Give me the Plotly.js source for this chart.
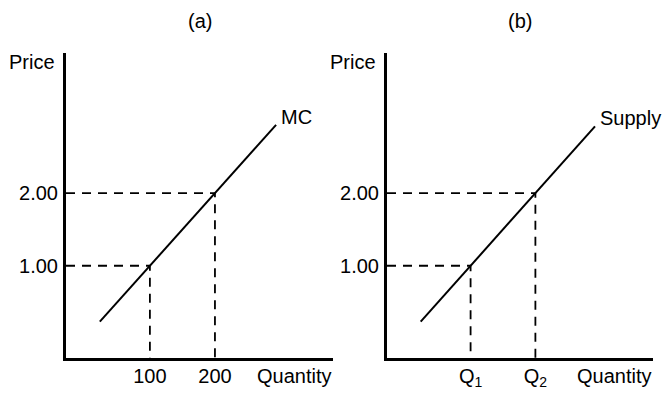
<!DOCTYPE html>
<html>
<head>
<meta charset="utf-8">
<script src="https://cdn.plot.ly/plotly-3.0.1.min.js"></script>
<style>html,body{margin:0;padding:0;background:#fff;}#chart{width:670px;height:393px;}</style>
</head>
<body>
<div id="chart"></div>
<script>
// ---- data ----
const panelTitles = ['(a)', '(b)'];
const curveNames = ['MC', 'Supply'];
const quantityTicks = [100, 200];
const quantityLabelsA = ['100', '200'];
const quantityLabelsB = ['Q<sub>1</sub>', 'Q<sub>2</sub>'];
const priceTicks = [1, 2];
const priceLabels = ['1.00', '2.00'];
const mcQty = [23, 294];
const mcPrice = [0.23, 2.94];
const supplyQty = [23, 292];
const supplyPrice = [0.23, 2.92];
const xRange = [-29, 381.5];
const yRange = [-0.27, 3.93];

const FONT = {family: 'Liberation Sans, Arial, Helvetica, sans-serif', size: 20, color: '#000'};

function guides(xa, ya) {
  return priceTicks.map((p, i) => ({
    type: 'scatter', mode: 'lines', xaxis: xa, yaxis: ya, hoverinfo: 'skip', showlegend: false,
    x: [xRange[0], quantityTicks[i], quantityTicks[i]],
    y: [p, p, yRange[0]],
    line: {color: '#000', width: 1.8, dash: '9px,7px'}
  }));
}

const traces = [
  ...guides('x', 'y'),
  ...guides('x2', 'y2'),
  {type: 'scatter', mode: 'lines', x: mcQty, y: mcPrice, xaxis: 'x', yaxis: 'y', name: curveNames[0],
   line: {color: '#000', width: 2}, showlegend: false},
  {type: 'scatter', mode: 'lines', x: supplyQty, y: supplyPrice, xaxis: 'x2', yaxis: 'y2', name: curveNames[1],
   line: {color: '#000', width: 2}, showlegend: false}
];

function xAxis(domain, labels, anchor) {
  return {domain: domain, range: xRange, anchor: anchor, showline: true, linewidth: 3, linecolor: '#000',
    showgrid: false, zeroline: false, ticks: '', tickvals: quantityTicks, ticktext: labels,
    tickfont: FONT, ticklabelstandoff: -2, fixedrange: true};
}
function yAxis(domain, anchor) {
  return {domain: domain, range: yRange, anchor: anchor, showline: true, linewidth: 3, linecolor: '#000',
    showgrid: false, zeroline: false, ticks: '', tickvals: priceTicks, ticktext: priceLabels,
    tickfont: FONT, ticklabelstandoff: 1, fixedrange: true};
}

const yDom = [35 / 393, 340 / 393];
const layout = {
  width: 670, height: 393,
  margin: {l: 0, r: 0, t: 0, b: 0},
  paper_bgcolor: '#fff', plot_bgcolor: 'rgba(0,0,0,0)',
  font: FONT,
  showlegend: false,
  xaxis: xAxis([66 / 670, 333 / 670], quantityLabelsA, 'y'),
  yaxis: yAxis(yDom, 'x'),
  xaxis2: xAxis([387 / 670, 653 / 670], quantityLabelsB, 'y2'),
  yaxis2: yAxis(yDom, 'x2'),
  annotations: [
    {text: panelTitles[0], xref: 'x domain', yref: 'paper', x: 0.5, y: 1, yanchor: 'top', yshift: -8, showarrow: false, font: FONT},
    {text: panelTitles[1], xref: 'x2 domain', yref: 'paper', x: 0.5, y: 1, yanchor: 'top', yshift: -8, showarrow: false, font: FONT},
    {text: 'Price', xref: 'x domain', yref: 'y domain', x: 0, y: 1, xanchor: 'right', yanchor: 'top', xshift: -9, yshift: 4, showarrow: false, font: FONT},
    {text: 'Price', xref: 'x2 domain', yref: 'y2 domain', x: 0, y: 1, xanchor: 'right', yanchor: 'top', xshift: -9, yshift: 4, showarrow: false, font: FONT},
    {text: 'Quantity', xref: 'x domain', yref: 'y domain', x: 1, y: 0, xanchor: 'right', yanchor: 'top', xshift: 0, yshift: -5, showarrow: false, font: FONT},
    {text: 'Quantity', xref: 'x2 domain', yref: 'y2 domain', x: 1, y: 0, xanchor: 'right', yanchor: 'top', xshift: 0, yshift: -5, showarrow: false, font: FONT},
    {text: curveNames[0], xref: 'x', yref: 'y', x: mcQty[1], y: mcPrice[1], xanchor: 'left', yanchor: 'middle', xshift: 3, yshift: 8, showarrow: false, font: FONT},
    {text: curveNames[1], xref: 'x2', yref: 'y2', x: supplyQty[1], y: supplyPrice[1], xanchor: 'left', yanchor: 'middle', xshift: 3, yshift: 8, showarrow: false, font: FONT}
  ]
};

Plotly.newPlot('chart', traces, layout, {displayModeBar: false, staticPlot: true});
</script>
</body>
</html>
